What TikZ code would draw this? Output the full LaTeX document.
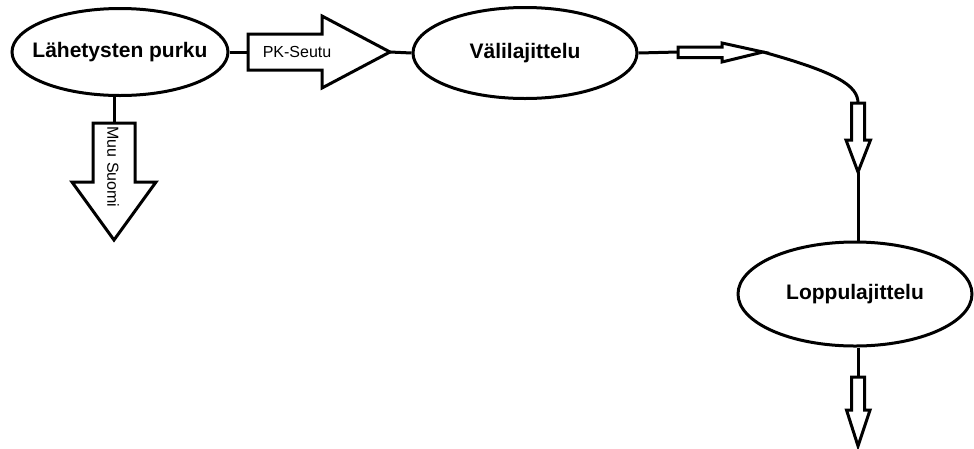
\documentclass[tikz,border=0pt]{standalone}
\usepackage{fontspec}
\setmainfont{Liberation Sans}
\usetikzlibrary{shapes.geometric}
\tikzset{
  stage/.style={ellipse,draw=black,line width=3pt,inner sep=0pt,font=\fontsize{21}{23}\selectfont\bfseries},
  blockarrow/.style={draw=black,line width=3pt,line join=miter,fill=white},
  link/.style={draw=black,line width=3pt},
  lbl/.style={inner sep=0pt,font=\fontsize{16}{18}\selectfont}
}
\begin{document}
\begin{tikzpicture}[x=1pt,y=-1pt]
\useasboundingbox (0,0) rectangle (974,448);
% stages
\node[stage,minimum width=216pt,minimum height=87pt] (e1) at (120,52) {\makebox[0pt]{Lähetysten purku}};
\node[stage,minimum width=224pt,minimum height=91pt] (e2) at (525,53) {\makebox[0pt]{Välilajittelu}};
\node[stage,minimum width=234pt,minimum height=104pt] (e3) at (855,294) {\makebox[0pt]{Loppulajittelu}};
% arrow anchor coordinates
\coordinate (a1t) at (248,52);
\coordinate (a1h) at (390,52);
\coordinate (a2t) at (678,52);
\coordinate (a2h) at (763,52);
\coordinate (a3t) at (858,103);
\coordinate (a3h) at (858,172);
\coordinate (a4t) at (858,377);
\coordinate (a4h) at (858,446);
\coordinate (a5t) at (114,123);
\coordinate (a5h) at (114,240);
% connectors
\draw[link] (e1.east) -- (a1t);
\draw[link] (a1h) -- (e2.west);
\draw[link] (e2.east) -- (a2t);
\draw[link] (a2h) .. controls (835,72) and (858,85) .. (a3t);
\draw[link] (a3h) -- (e3.north -| a3h);
\draw[link] (e3.south -| a4t) -- (a4t);
\draw[link] (e1.south -| a5t) -- (a5t);
% block arrows
\draw[blockarrow] (248,34) -- (322,34) -- (322,16) -- (a1h) -- (322,88) -- (322,70) -- (248,70) -- cycle;
\draw[blockarrow] (678,47) -- (722,47) -- (722,43) -- (a2h) -- (722,62) -- (722,57.5) -- (678,57.5) -- cycle;
\draw[blockarrow] (851.5,103) -- (851.5,140) -- (846,140) -- (a3h) -- (870.5,140) -- (864.5,140) -- (864.5,103) -- cycle;
\draw[blockarrow] (851.5,377) -- (851.5,410) -- (846.5,410) -- (a4h) -- (870,410) -- (864.5,410) -- (864.5,377) -- cycle;
\draw[blockarrow] (93,123) -- (93,182) -- (72,182) -- (a5h) -- (156,182) -- (135,182) -- (135,123) -- cycle;
% labels
\node[lbl] (pk) at (297,52) {PK-Seutu};
\node[lbl,rotate=-90] (muu) at (113,167) {Muu Suomi};
\end{tikzpicture}
\end{document}
